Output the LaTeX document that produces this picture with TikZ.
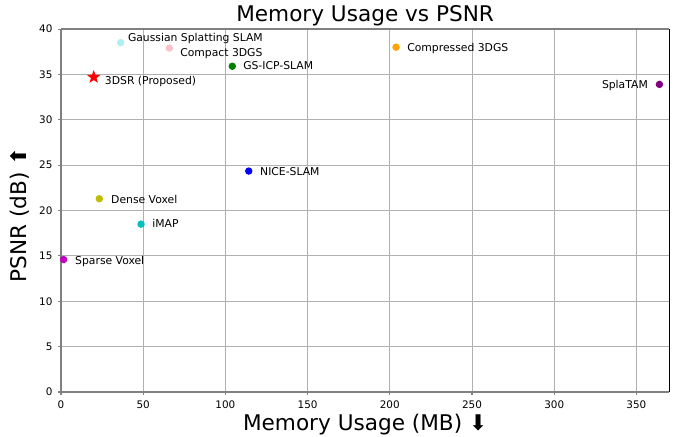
\documentclass[tikz,border=0pt]{standalone}
\usepackage{fontspec}
\setmainfont{DejaVu Sans}
\usetikzlibrary{shapes.geometric}

\definecolor{gridgray}{HTML}{B0B0B0}
\definecolor{spinegray}{HTML}{808080}
\definecolor{mplolive}{HTML}{BFBF00}
\definecolor{mplcyan}{HTML}{00BFBF}
\definecolor{mplmagenta}{HTML}{BF00BF}
\definecolor{mplpurple}{HTML}{800080}
\definecolor{mplorange}{HTML}{FFA500}
\definecolor{mplgreen}{HTML}{008000}
\definecolor{mplpink}{HTML}{FFC0CB}
\definecolor{mplturq}{HTML}{AFEEEE}

\tikzset{
  dot/.style={circle, inner sep=0pt, minimum size=5.6pt},
  lbl/.style={anchor=base west, inner sep=0pt, font=\fontsize{8.1}{9.7}\selectfont},
  ticklbl/.style={inner sep=0pt, font=\fontsize{7.8}{9.4}\selectfont},
  biglbl/.style={inner sep=0pt, font=\fontsize{16.2}{19.4}\selectfont}
}

\begin{document}
\begin{tikzpicture}[x=1.233pt, y=6.806pt]
\useasboundingbox (-37.1,-4.85) rectangle (374.7,43.2);

% Grid
\foreach \x in {50,100,...,350}
  \draw[gridgray, line width=0.75pt] (\x,0) -- (\x,40);
\foreach \y in {5,10,...,35}
  \draw[gridgray, line width=0.75pt] (0,\y) -- (370,\y);

% Axes (spines)
\draw[black, line width=0.75pt] (370,0) -- (370,40);
\draw[spinegray, line width=1.1pt] (0,40) -- (0,0) -- (370,0);
\draw[spinegray, line width=1.1pt] (0,40) -- (370,40);

% Ticks and tick labels
\foreach \x in {0,50,...,350} {
  \draw[spinegray, line width=0.8pt] (\x,0) -- ++(0,-2.6pt);
  \node[ticklbl, anchor=base] at (\x,-1.8) {\x};
}
\foreach \y in {0,5,...,40} {
  \draw[spinegray, line width=0.8pt] (0,\y) -- ++(-2.6pt,0);
  \node[ticklbl, anchor=base east, yshift=-2.85pt] at (-5.05,\y) {\y};
}

% Data points
\node[dot, fill=mplturq] (gsslam) at (36.3,38.5) {};
\node[dot, fill=mplpink] (compact) at (65.9,37.9) {};
\node[dot, fill=mplgreen] (gsicp) at (104.2,35.9) {};
\node[star, star points=5, star point ratio=2.4, inner sep=0pt, minimum size=10.5pt, fill=red] (ours) at (19.9,34.7) {};
\node[dot, fill=mplorange] (compressed) at (203.8,38.0) {};
\node[dot, fill=mplpurple] (splatam) at (364,33.9) {};
\node[dot, fill=blue] (nice) at (114.2,24.35) {};
\node[dot, fill=mplolive] (dense) at (23.3,21.3) {};
\node[dot, fill=mplcyan] (imap) at (48.7,18.5) {};
\node[dot, fill=mplmagenta] (sparse) at (1.6,14.6) {};

% Labels
\node[lbl] (gsslamlbl) at (40.6,38.6) {Gaussian Splatting SLAM};
\node[lbl] (compactlbl) at (72.4,37.0) {Compact 3DGS};
\node[lbl] (gsicplbl) at (110.7,35.5) {GS-ICP-SLAM};
\node[lbl] (ourslbl) at (26.6,33.9) {3DSR (Proposed)};
\node[lbl] (compressedlbl) at (210.5,37.5) {Compressed 3DGS};
\node[lbl, anchor=base east] (splatamlbl) at (357.1,33.5) {SplaTAM};
\node[lbl] (nicelbl) at (121.0,23.9) {NICE-SLAM};
\node[lbl] (denselbl) at (30.4,20.8) {Dense Voxel};
\node[lbl] (imaplbl) at (55.4,18.1) {iMAP};
\node[lbl] (sparselbl) at (8.5,14.07) {Sparse Voxel};

% Title and axis labels
\node[biglbl, anchor=base] (title) at (185,40.8) {Memory Usage vs PSNR};
\node[biglbl, anchor=base] (xlabel) at (185,-4.25) {Memory Usage (MB) ⬇};
\node[biglbl, rotate=90] (ylabel) at (-25.2,19.5) {PSNR (dB) ⬆};
\end{tikzpicture}
\end{document}
